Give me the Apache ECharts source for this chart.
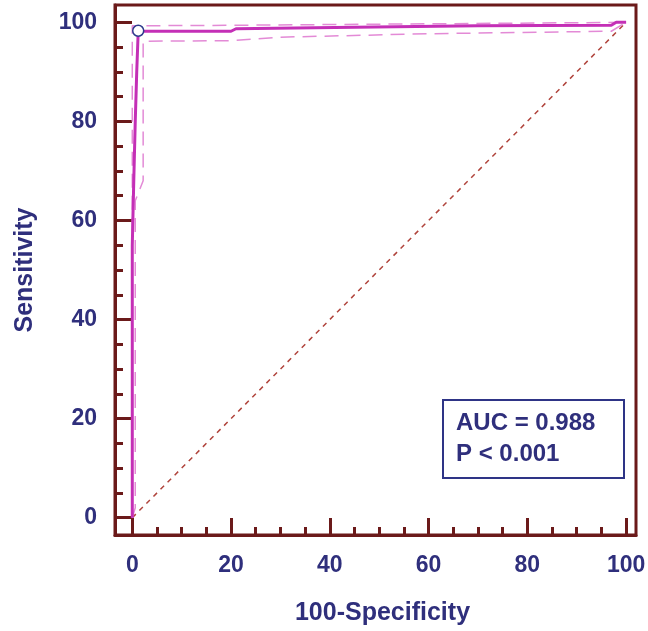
<!DOCTYPE html>
<html>
<head>
<meta charset="utf-8">
<script src="https://cdn.jsdelivr.net/npm/echarts@6/dist/echarts.min.js"></script>
<style>
  html, body { margin: 0; padding: 0; background: #fff; }
  #main { width: 648px; height: 631px; }
</style>
</head>
<body>
<div id="main"></div>
<script>
// ROC curve (100-Specificity, Sensitivity)
const rocX = [0, 0, 0.3, 0.6, 0.9, 1.2, 20, 21, 45, 70, 97, 98, 100]
const rocY = [0, 55, 68, 80, 90, 98.2, 98.2, 98.7, 99.0, 99.3, 99.4, 100, 100]

// confidence bounds
const lowX = [0, 0.6, 0.6, 2.2, 2.2, 20, 30, 60, 97, 100]
const lowY = [0, 2, 64, 68, 96.2, 96.3, 97, 97.7, 98.2, 100]
const upX = [0, 0, 20, 60, 100]
const upY = [0, 99.3, 99.4, 99.7, 100]

// reference diagonal
const diagX = [0, 100]
const diagY = [0, 100]

// optimal cut-off point
const cutX = [1.2]
const cutY = [98.3]

const majorTicks = [0, 20, 40, 60, 80, 100]
const minorTicks = [5, 10, 15, 25, 30, 35, 45, 50, 55, 65, 70, 75, 85, 90, 95]

const aucText = 'AUC = 0.988'
const pText = 'P < 0.001'

const zip = (xs, ys) => xs.map((x, i) => [x, ys[i]])

const frameColor = '#6b1a1a'
const textColor = '#2f2f7c'
const font = 'Liberation Sans'

function axisPair (kind, name, min, max, nameGap, namePad, labelMargin) {
  const pos = kind === 'x' ? 'bottom' : 'left'
  return [
    {
      type: 'value',
      position: pos,
      min: min,
      max: max,
      name: name,
      nameLocation: 'middle',
      nameGap: nameGap,
      nameTextStyle: { color: textColor, fontFamily: font, fontWeight: 'bold', fontSize: 25, padding: namePad },
      axisLine: { show: true, onZero: false, lineStyle: { color: frameColor, width: 3 } },
      axisTick: { show: true, inside: true, length: 17, customValues: majorTicks, lineStyle: { color: frameColor, width: 3 } },
      axisLabel: { customValues: majorTicks, margin: labelMargin, color: textColor, fontFamily: font, fontWeight: 'bold', fontSize: 23 },
      splitLine: { show: false }
    },
    {
      type: 'value',
      position: pos,
      min: min,
      max: max,
      axisLine: { show: false, onZero: false },
      axisTick: { show: true, inside: true, length: 8, customValues: minorTicks, lineStyle: { color: frameColor, width: 3 } },
      axisLabel: { show: false },
      splitLine: { show: false }
    }
  ]
}

const chart = echarts.init(document.getElementById('main'))

const option = {
  animation: false,
  backgroundColor: '#ffffff',
  grid: {
    left: 115,
    right: 12,
    top: 5,
    bottom: 96,
    show: true,
    borderColor: frameColor,
    borderWidth: 3,
    outerBoundsMode: 'none'
  },
  xAxis: axisPair('x', '100-Specificity', -3.5, 102, 66, [0, 0, 0, 14], 19),
  yAxis: axisPair('y', 'Sensitivity', -3.5, 103.5, 77, 0, 18),
  series: [
    {
      type: 'line',
      data: zip(diagX, diagY),
      symbol: 'none',
      lineStyle: { color: '#b0443c', width: 1.5, type: [5, 5] },
      z: 1
    },
    {
      type: 'line',
      data: zip(lowX, lowY),
      symbol: 'none',
      lineStyle: { color: '#e38ad6', width: 1.5, type: [14, 8] },
      z: 2
    },
    {
      type: 'line',
      data: zip(upX, upY),
      symbol: 'none',
      lineStyle: { color: '#e38ad6', width: 1.5, type: [14, 8] },
      z: 2
    },
    {
      type: 'line',
      data: zip(rocX, rocY),
      symbol: 'none',
      lineStyle: { color: '#c42fb6', width: 3 },
      z: 3
    },
    {
      type: 'scatter',
      data: zip(cutX, cutY),
      symbol: 'circle',
      symbolSize: 11,
      itemStyle: { color: '#ffffff', borderColor: '#2d3a8c', borderWidth: 1.5, opacity: 1 },
      z: 4
    }
  ],
  graphic: [
    {
      type: 'group',
      left: 442,
      top: 399,
      children: [
        {
          type: 'rect',
          shape: { x: 0, y: 0, width: 181, height: 78 },
          style: { fill: '#ffffff', stroke: '#2e3486', lineWidth: 2 }
        },
        {
          type: 'text',
          x: 13,
          y: 23,
          style: { text: aucText, fill: textColor, font: 'bold 24px "Liberation Sans"', verticalAlign: 'middle' }
        },
        {
          type: 'text',
          x: 13,
          y: 54,
          style: { text: pText, fill: textColor, font: 'bold 24px "Liberation Sans"', verticalAlign: 'middle' }
        }
      ]
    }
  ]
}

chart.setOption(option)
</script>
</body>
</html>
